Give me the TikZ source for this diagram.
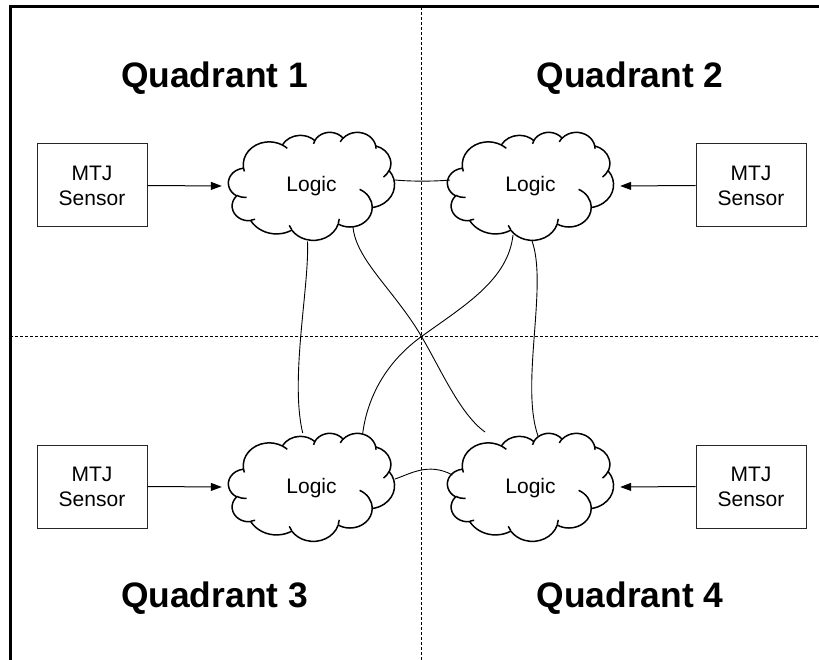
\documentclass[tikz,border=0pt]{standalone}
\usepackage{fontspec}
\setmainfont{Liberation Sans}
\usetikzlibrary{arrows.meta,calc}
\makeatletter
% convert a DrawingML (visual) angle to an unwrapped parametric angle
\newcommand\ooconv[4]{%
  \pgfmathsetmacro\oo@a{atan2((#2)*sin(#4),(#3)*cos(#4))}%
  \pgfmathsetmacro\oo@b{\oo@a-(#4)}%
  \pgfmathsetmacro\oo@b{\oo@b-360*round(\oo@b/360)}%
  \pgfmathsetmacro#1{(#4)+\oo@b}%
}
\newcommand\ooarc[4]{%
  \ooconv\oo@s{#1}{#2}{#3}%
  \ooconv\oo@e{#1}{#2}{(#3)+(#4)}%
  \pgfmathsetmacro\oo@d{\oo@e-\oo@s}%
  \xdef\oo@path{\oo@path arc[start angle=\oo@s, delta angle=\oo@d, x radius=#1, y radius=#2] }%
}
\newcommand\oomove[2]{\xdef\oo@path{\oo@path (#1,#2) }}
% outline
\gdef\oo@path{(3.9,14.37) }
\ooarc{6.753}{9.190}{-190.4875}{123.7805}
\ooarc{5.333}{7.267}{-144.1024}{89.9452}
\ooarc{4.365}{5.945}{-145.8079}{99.7230}
\ooarc{4.857}{6.595}{-130.9861}{117.2417}
\ooarc{5.333}{7.273}{-78.7089}{109.0269}
\ooarc{6.775}{9.220}{-46.2673}{130.2690}
\ooarc{5.785}{7.867}{0.6250}{114.0333}
\ooarc{6.752}{9.215}{22.4516}{115.1726}
\ooarc{7.720}{10.543}{66.2426}{75.7110}
\ooarc{4.360}{5.918}{-274.9421}{146.7356}
\ooarc{4.345}{5.945}{-246.8285}{152.5189}
\xdef\oo@path{\oo@path -- cycle}
\global\let\cloudmain\oo@path
% inner hooks
\gdef\oo@path{}
\oomove{4.693}{26.177}\ooarc{4.345}{5.945}{86.7420}{26.4295}
\oomove{6.928}{34.899}\ooarc{4.360}{5.918}{73.6105}{11.4475}
\oomove{16.478}{39.090}\ooarc{6.752}{9.215}{137.6242}{14.0811}
\oomove{28.827}{34.751}\ooarc{6.752}{9.215}{6.4533}{15.9984}
\oomove{34.129}{22.954}\ooarc{5.785}{7.867}{-70.2924}{70.9174}
\oomove{41.798}{15.354}\ooarc{5.333}{7.273}{30.3180}{27.7515}
\oomove{38.324}{5.426}\ooarc{4.857}{6.595}{-13.7443}{14.8589}
\oomove{29.078}{3.952}\ooarc{4.857}{6.595}{-149.1815}{18.1954}
\oomove{22.141}{4.720}\ooarc{4.365}{5.945}{-163.4943}{17.6864}
\oomove{14.000}{5.192}\ooarc{6.753}{9.190}{-66.7070}{12.3194}
\oomove{4.127}{15.789}\ooarc{6.753}{9.190}{157.6544}{11.8582}
\global\let\cloudinner\oo@path
\edef\oodraw{\noexpand\draw[cloudline] \cloudmain; \noexpand\draw[cloudline] \cloudinner;}
\makeatother
\newcommand\cloudat[1]{%
  \begin{scope}[shift={(#1)},x=3.8426pt,y=-2.5pt,shift={(-21.6,-21.6)}]
    \oodraw
  \end{scope}}
\tikzset{
  cloudline/.style={line width=1.5pt, line join=round},
  sensorbox/.style={draw=black!85, line width=1pt, minimum width=110pt, minimum height=83pt,
    inner sep=0pt, align=center, font=\fontsize{21}{25}\selectfont},
  logicnode/.style={minimum width=166pt, minimum height=108pt, inner sep=0pt,
    text height=15.5pt, text depth=3.5pt, font=\fontsize{21}{25}\selectfont},
  quadlabel/.style={anchor=base, inner sep=0pt, font=\fontsize{35.4}{42}\selectfont\bfseries},
  feed/.style={line width=1pt, -{Triangle[length=11pt,width=8pt]}},
  wire/.style={line width=0.9pt},
  divider/.style={line width=1pt, dash pattern=on 3pt off 2pt},
  framestyle/.style={line width=3pt}
}
\begin{document}
\begin{tikzpicture}[x=1pt,y=-1pt]
\useasboundingbox (0,0) rectangle (819,660);
% dividers and frame
\coordinate (vt) at (421.5,7);
\coordinate (vb) at (421.5,660);
\coordinate (hl) at (10,336.5);
\coordinate (hr) at (819,336.5);
\coordinate (mid) at (421.5,336.5);
\draw[divider] (vt) -- (vb);
\draw[divider] (hl) -- (hr);
\draw[framestyle] (10,660) -- (10,7) -- (819,7);
% quadrant labels
\node[quadlabel] (q1) at (214.5,87.5) {Quadrant 1};
\node[quadlabel] (q2) at (630,87.5) {Quadrant 2};
\node[quadlabel] (q3) at (214.5,607.5) {Quadrant 3};
\node[quadlabel] (q4) at (630,607.5) {Quadrant 4};
% sensors
\node[sensorbox] (m1) at (92,185.5) {MTJ\\Sensor};
\node[sensorbox] (m2) at (751,185.5) {MTJ\\Sensor};
\node[sensorbox] (m3) at (92,486.5) {MTJ\\Sensor};
\node[sensorbox] (m4) at (751,486.5) {MTJ\\Sensor};
% logic clouds
\node[logicnode] (l1) at (311.5,186) {Logic};
\node[logicnode] (l2) at (530.5,186) {Logic};
\node[logicnode] (l3) at (311.5,487) {Logic};
\node[logicnode] (l4) at (530.5,487) {Logic};
\cloudat{l1.center}
\cloudat{l2.center}
\cloudat{l3.center}
\cloudat{l4.center}
% sensor feeds
\draw[feed] (m1.east) -- ($(l1.west)+(-6.5,0)$);
\draw[feed] (m2.west) -- ($(l2.east)+(6.5,0)$);
\draw[feed] (m3.east) -- ($(l3.west)+(-6.5,0)$);
\draw[feed] (m4.west) -- ($(l4.east)+(6.5,0)$);
% logic interconnect
\draw[wire] ($(l1)+(83.5,-6)$) .. controls +(15,1.5) and +(-15,1.5) .. ($(l2)+(-80.5,-6)$);
\draw[wire] ($(l3)+(83.5,-8)$) .. controls +(15,-5) and +(-24,-13) .. ($(l4)+(-78,-12)$);
\draw[wire] ($(l1)+(-4,55.5)$) .. controls +(2,44) and +(-13,-54) .. ($(l3)+(-8.8,-54)$);
\draw[wire] ($(l2)+(1.5,55)$) .. controls +(16,44) and +(-18,-51) .. ($(l4)+(7.5,-51)$);
\draw[wire] ($(l1)+(41.5,41)$) .. controls +(3,33) and +(-27,-46) .. (mid)
  .. controls +(20,34) and +(-25,-18) .. ($(l4)+(-45.5,-55)$);
\draw[wire] ($(l2)+(-17.5,49)$) .. controls +(-5,45) and +(43,-31) .. (mid)
  .. controls +(-34,24.5) and +(5,-38) .. ($(l3)+(51.2,-53.7)$);
\end{tikzpicture}
\end{document}
